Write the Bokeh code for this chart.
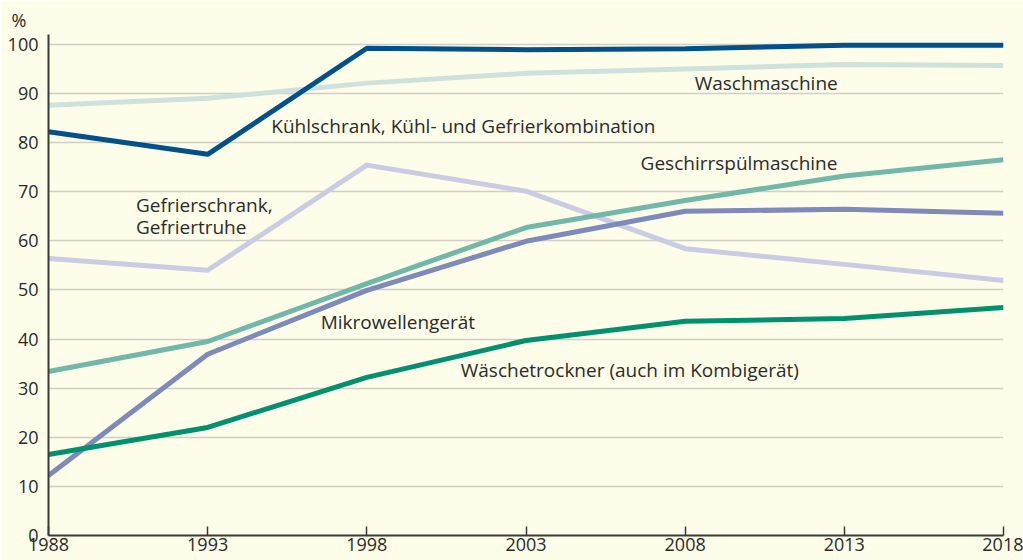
from bokeh.plotting import figure
from bokeh.models import Label, FixedTicker, Range1d
from bokeh.embed import file_html
from bokeh.resources import INLINE

years = [1988, 1993, 1998, 2003, 2008, 2013, 2018]
kuehlschrank = [82.2, 77.6, 99.2, 98.9, 99.1, 99.8, 99.8]
waschmaschine = [87.6, 89.0, 92.1, 94.1, 95.0, 95.9, 95.7]
gefrierschrank = [56.4, 54.0, 75.4, 70.1, 58.4, 55.2, 51.9]
geschirrspueler = [33.4, 39.5, 51.3, 62.7, 68.2, 73.2, 76.5]
mikrowelle = [12.2, 36.9, 49.9, 59.9, 66.0, 66.4, 65.6]
trockner = [16.5, 22.0, 32.2, 39.7, 43.6, 44.2, 46.4]

y_ticks = [0, 10, 20, 30, 40, 50, 60, 70, 80, 90, 100]
x_ticks = years

FONT = "Open Sans"
TXT = "#2b2b2b"
BG = "#fefde9"

p = figure(width=1023, height=560, output_backend="svg", toolbar_location=None,
           x_range=Range1d(1988, 2018), y_range=Range1d(0, 102),
           min_border_left=48, min_border_right=20, min_border_top=34, min_border_bottom=25,
           title="%")
p.background_fill_color = BG
p.border_fill_color = BG
p.outline_line_color = None

p.title.align = "left"
p.title.offset = -37
p.title.standoff = 5
p.title.text_font = FONT
p.title.text_font_size = "18px"
p.title.text_font_style = "normal"
p.title.text_color = TXT

p.xgrid.visible = False
p.ygrid.ticker = FixedTicker(ticks=y_ticks[1:])
p.ygrid.grid_line_color = "#cfcfc8"
p.ygrid.grid_line_width = 1.5

p.yaxis.ticker = FixedTicker(ticks=y_ticks)
p.xaxis.ticker = FixedTicker(ticks=x_ticks)
for ax in (p.xaxis[0], p.yaxis[0]):
    ax.axis_line_color = "#3a3a3a"
    ax.axis_line_width = 2
    ax.major_tick_line_color = "#3a3a3a"
    ax.major_tick_line_width = 1.5
    ax.minor_tick_line_color = None
    ax.major_label_text_font = FONT
    ax.major_label_text_font_size = "18px"
    ax.major_label_text_color = TXT
p.yaxis.major_tick_in = 0
p.yaxis.major_tick_out = 0
p.yaxis.major_label_standoff = 10
p.xaxis.major_tick_in = 9
p.xaxis.major_tick_out = 0
p.xaxis.major_label_standoff = 2

series = [
    (waschmaschine, "#cde2dd"),
    (gefrierschrank, "#c9cce3"),
    (geschirrspueler, "#72b8a9"),
    (mikrowelle, "#7d8aba"),
    (trockner, "#00906f"),
    (kuehlschrank, "#005089"),
]
for vals, col in series:
    p.line(years, vals, line_color=col, line_width=5)

labels = [
    (2008.3, 92.1, "Waschmaschine"),
    (1995.0, 83.3, "Kühlschrank, Kühl- und Gefrierkombination"),
    (2006.6, 75.9, "Geschirrspülmaschine"),
    (1990.75, 67.2, "Gefrierschrank,"),
    (1990.75, 62.9, "Gefriertruhe"),
    (1996.55, 43.5, "Mikrowellengerät"),
    (2000.95, 33.6, "Wäschetrockner (auch im Kombigerät)"),
]
for x, y, t in labels:
    p.add_layout(Label(x=x, y=y, text=t, text_font=FONT, text_font_size="19px",
                       text_color=TXT, text_baseline="middle", text_align="left"))

open("out.html", "w").write(file_html(p, INLINE))
